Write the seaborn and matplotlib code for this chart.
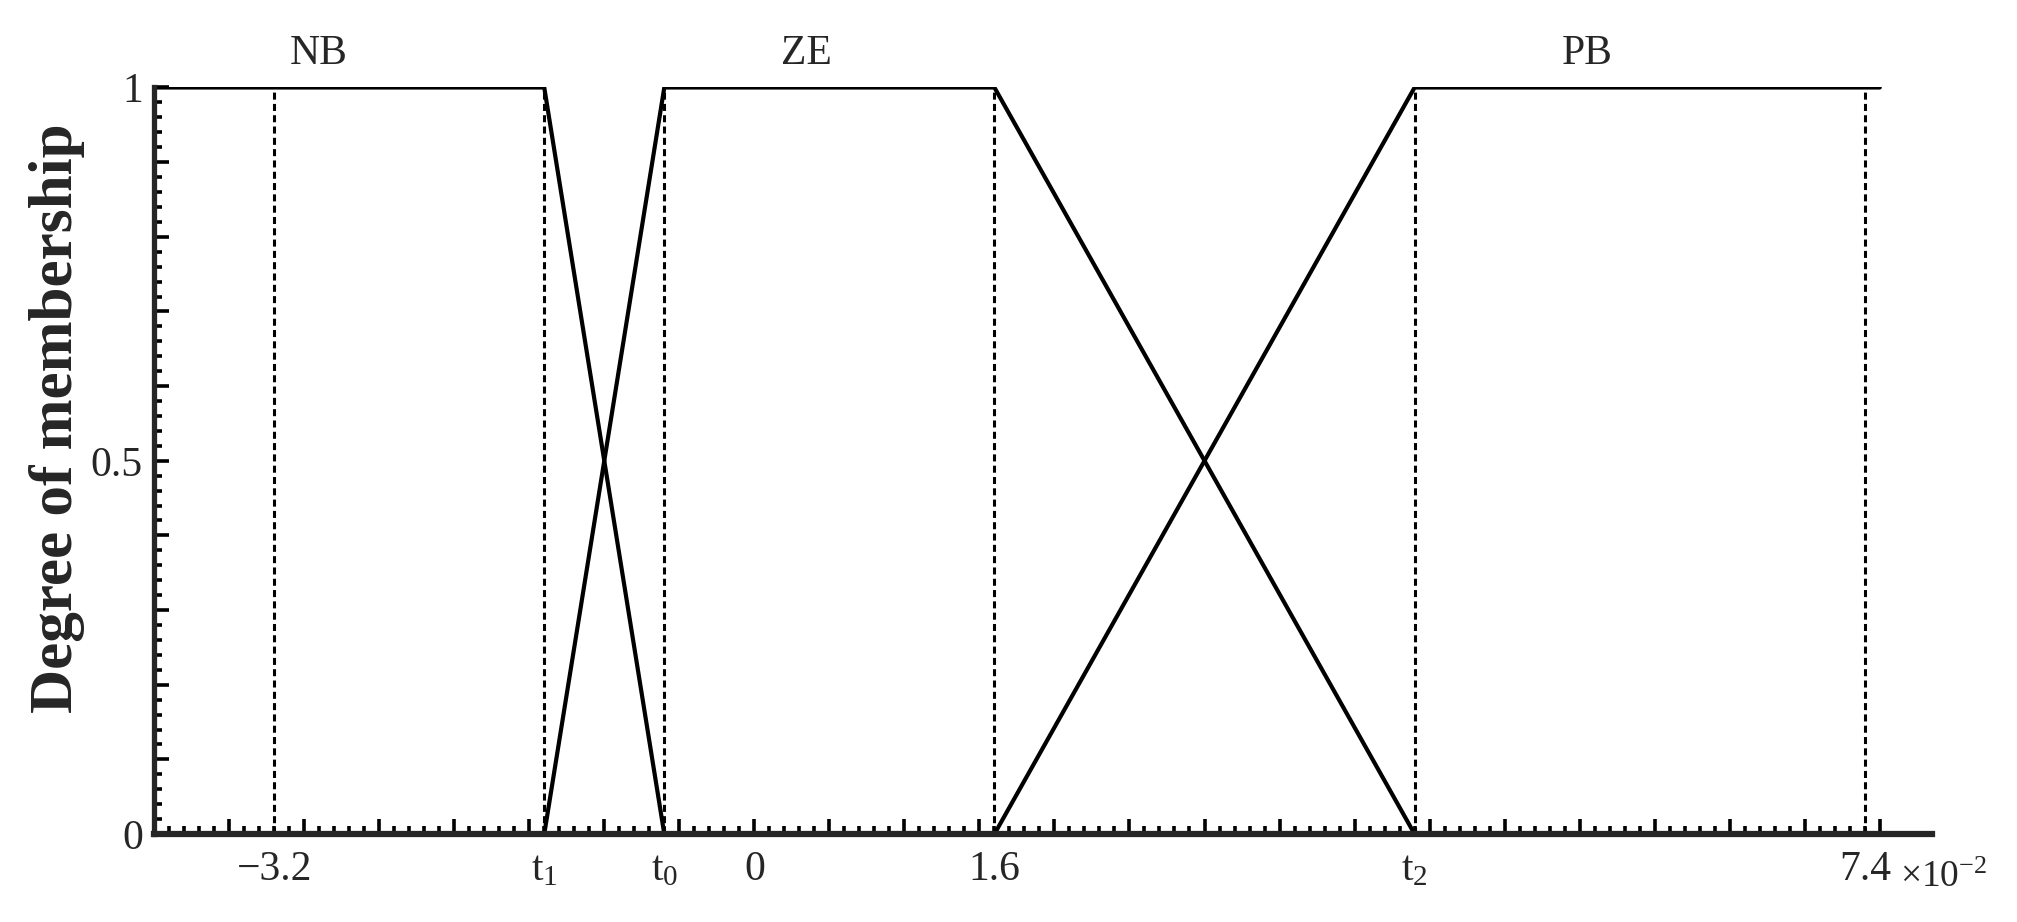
import matplotlib
matplotlib.use("Agg")
import matplotlib.pyplot as plt
import seaborn as sns
import pandas as pd
import numpy as np

# membership breakpoints (units of 1e-2)
t1, t0, t2 = -1.4, -0.6, 4.4
x_lo, x_hi = -4.0, 7.5

nb_x = [x_lo, t1, t0]
nb_y = [1, 1, 0]
ze_x = [t1, t0, 1.6, t2]
ze_y = [0, 1, 1, 0]
pb_x = [1.6, t2, x_hi]
pb_y = [0, 1, 1]

guide_x = [-3.2, t1, t0, 1.6, t2, 7.4]
xtick_pos = [-3.2, t1, t0, 0, 1.6, t2, 7.4]
xtick_lab = ['\u22123.2', r'$\mathregular{t_1}$', r'$\mathregular{t_0}$', '0', '1.6',
             r'$\mathregular{t_2}$', '7.4']
set_names = ['NB', 'ZE', 'PB']
set_label_x = [-2.9, 0.35, 5.55]

sns.set_style('ticks')
plt.rcParams['font.family'] = ['Liberation Serif', 'DejaVu Serif']
plt.rcParams['mathtext.fontset'] = 'custom'
plt.rcParams['mathtext.rm'] = 'Liberation Serif'
plt.rcParams['mathtext.it'] = 'Liberation Serif:italic'

df = pd.concat([
    pd.DataFrame({'x': nb_x, 'mu': nb_y, 'set': 'NB'}),
    pd.DataFrame({'x': ze_x, 'mu': ze_y, 'set': 'ZE'}),
    pd.DataFrame({'x': pb_x, 'mu': pb_y, 'set': 'PB'}),
])

fig = plt.figure(figsize=(20.17, 9.22), dpi=100)
ax = fig.add_axes([0.0764, 0.0954, 0.8816, 0.8097])

sns.lineplot(data=df, x='x', y='mu', hue='set', palette={s: 'black' for s in set_names},
             sort=False, estimator=None, legend=False, linewidth=3.0, ax=ax)
ax.vlines(guide_x, 0, 1, colors='black', linewidth=2.2, linestyles=(0, (2.3, 1.4)))

ax.set_xlim(-4.0, 7.85)
ax.set_ylim(0, 1)
for s in ['top', 'right']:
    ax.spines[s].set_visible(False)
ax.spines['bottom'].set_linewidth(4.5)
ax.spines['left'].set_linewidth(3.8)

# tick marks
ax.set_xticks(np.arange(-4.0, 7.51, 0.5))
ax.set_xticks(np.arange(-4.0, 7.51, 0.1), minor=True)
ax.set_xticklabels([])
ax.set_yticks(np.arange(0, 1.01, 0.1))
ax.set_yticks(np.arange(0, 1.001, 0.02), minor=True)
ax.set_yticklabels(['0', '', '', '', '', '0.5', '', '', '', '', '1'])
ax.tick_params(which='both', direction='in', color='black', width=2.6)
ax.tick_params(which='major', length=11)
ax.tick_params(which='minor', length=6)
ax.tick_params(axis='y', labelsize=30, pad=8)

sec = ax.secondary_xaxis('bottom')
sec.set_xticks(xtick_pos, labels=xtick_lab)
sec.tick_params(length=0, labelsize=30, pad=12)
sec.spines['bottom'].set_visible(False)

ax.text(0.982, -0.036, '\u00d710$^{\\mathregular{-2}}$', transform=ax.transAxes,
        ha='left', va='top', fontsize=27, clip_on=False)

for name, xp in zip(set_names, set_label_x):
    ax.text(xp, 1.045, name, ha='center', va='center', fontsize=30, clip_on=False)

ax.set_xlabel('')
ax.set_ylabel('Degree of membership', fontsize=44, fontweight='bold', labelpad=10)
ax.yaxis.set_label_coords(-0.039, 0.557)

fig.savefig('out.png', dpi=100)
